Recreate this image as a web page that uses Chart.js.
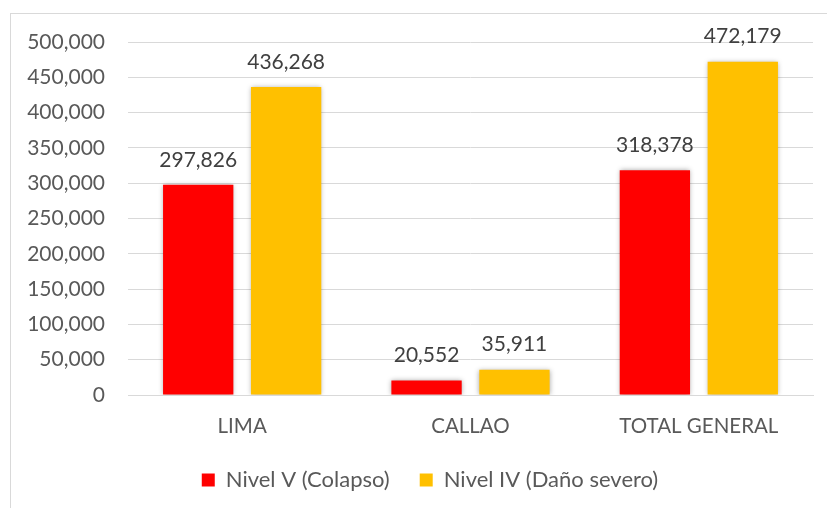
<!DOCTYPE html>
<html><head><meta charset="utf-8">
<script src="https://cdn.jsdelivr.net/npm/chart.js@4"></script>
<style>
html,body{margin:0;padding:0;background:#fff;width:827px;height:508px;overflow:hidden}
#frame{position:absolute;left:10px;top:13px;width:840px;height:520px;border:1px solid #d9d9d9;box-sizing:border-box}
#wrap{position:absolute;left:0;top:0;width:827px;height:508px}
</style></head><body>
<div id="frame"></div>
<div id="wrap"><canvas id="c" width="827" height="508"></canvas></div>
<script>
const categories = ["LIMA", "CALLAO", "TOTAL GENERAL"];
const nivelV = [297826, 20552, 318378];
const nivelIV = [436268, 35911, 472179];
const seriesNames = ["Nivel V (Colapso)", "Nivel IV (Daño severo)"];
const seriesColors = ["#ff0000", "#ffc000"];
const yMax = 500000, yStep = 50000;

const FONT = "Lato, 'Open Sans', sans-serif";
const fmt = v => v.toLocaleString('en-US');

const shadowPlugin = {
  id: 'shadow',
  beforeDatasetsDraw(chart){ const c=chart.ctx; c.save(); c.shadowColor='rgba(0,0,0,0.35)'; c.shadowBlur=5; c.shadowOffsetX=0; c.shadowOffsetY=0; },
  afterDatasetsDraw(chart){ chart.ctx.restore(); }
};
const labelPlugin = {
  id: 'vals',
  afterDatasetsDraw(chart){
    const c = chart.ctx;
    c.save();
    c.font = "21px " + FONT;
    c.fillStyle = '#404040';
    c.textAlign = 'center';
    c.textBaseline = 'middle';
    chart.data.datasets.forEach((ds, i) => {
      chart.getDatasetMeta(i).data.forEach((bar, j) => {
        c.fillText(fmt(ds.data[j]), bar.x, bar.y - 25);
      });
    });
    c.restore();
  }
};
const legendShift = {
  id: 'legendShift',
  afterLayout(chart){ if (chart.legend) { chart.legend.left += 37; } }
};

new Chart(document.getElementById('c'), {
  type: 'bar',
  data: {
    labels: categories,
    datasets: [
      { label: seriesNames[0], data: nivelV, backgroundColor: seriesColors[0] },
      { label: seriesNames[1], data: nivelIV, backgroundColor: seriesColors[1] }
    ]
  },
  options: {
    responsive: false,
    animation: false,
    devicePixelRatio: 1,
    layout: { padding: { left: 10, right: 14, top: 42, bottom: 7 } },
    datasets: { bar: { categoryPercentage: 0.77, barPercentage: 0.8 } },
    scales: {
      x: {
        grid: { display: false, drawTicks: false },
        border: { display: true, color: '#d9d9d9', width: 1 },
        ticks: { color: '#595959', font: { family: FONT, size: 20.5 }, padding: 19 },
        afterFit(s){ s.height = 44; }
      },
      y: {
        min: 0, max: yMax,
        grid: { color: '#d9d9d9', drawTicks: false },
        border: { display: false },
        ticks: { stepSize: yStep, color: '#595959', font: { family: FONT, size: 21 }, padding: 23,
                 callback: v => fmt(v) },
        afterFit(s){ s.width = 118; }
      }
    },
    plugins: {
      legend: {
        position: 'bottom',
        labels: { boxWidth: 13, boxHeight: 13, color: '#595959', font: { family: FONT, size: 22 }, padding: 30 }
      },
      tooltip: { enabled: false }
    }
  },
  plugins: [shadowPlugin, labelPlugin, legendShift]
});
</script>
</body></html>
